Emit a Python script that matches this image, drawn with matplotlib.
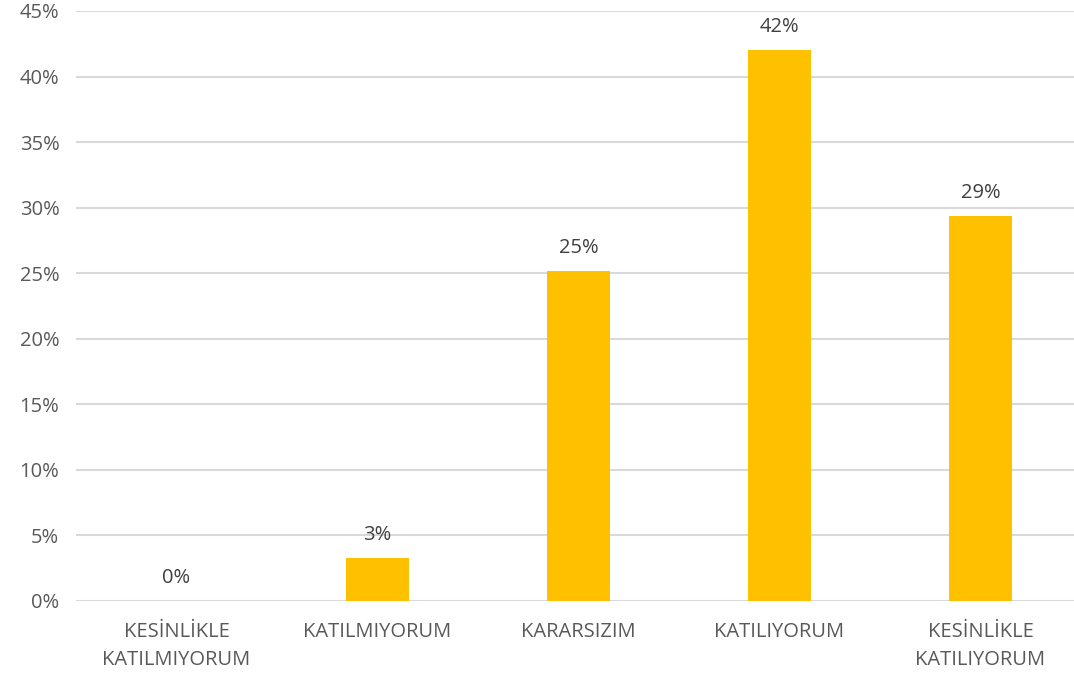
import matplotlib
matplotlib.use('Agg')
import matplotlib.pyplot as plt

categories = ['KESİNLİKLE\nKATILMIYORUM', 'KATILMIYORUM', 'KARARSIZIM',
              'KATILIYORUM', 'KESİNLİKLE\nKATILIYORUM']
values = [0.0, 3.3, 25.2, 42.0, 29.4]
labels = ['0%', '3%', '25%', '42%', '29%']
yticks = [0, 5, 10, 15, 20, 25, 30, 35, 40, 45]

W, H = 1074, 677
plt.rcParams['font.family'] = ['Open Sans', 'DejaVu Sans']
grey = '#595959'
fs = 14.5

fig = plt.figure(figsize=(W / 100, H / 100), dpi=100)
ax = fig.add_axes([76 / W, 1 - 601 / H, (1074 - 76) / W, 590 / H])

x = list(range(len(categories)))
ax.bar(x, values, width=0.315, color='#FFC000', zorder=3)

for xi, v, lab in zip(x, values, labels):
    ax.annotate(lab, (xi, v), xytext=(0, 13), textcoords='offset pixels',
                ha='center', va='bottom', fontsize=fs, color='#404040')

ax.set_xlim(-0.5, 4.5 - 7 / 201)
ax.set_ylim(0, 45)
ax.set_yticks(yticks)
ax.set_yticklabels([f'{t}%' for t in yticks], fontsize=fs, color=grey)
ax.set_xticks(x)
ax.set_xticklabels(categories, fontsize=fs, color=grey, linespacing=1.55)
ax.tick_params(length=0)
ax.tick_params(axis='y', pad=12)
ax.tick_params(axis='x', pad=15)
ax.grid(axis='y', color='#d9d9d9', linewidth=1.5, zorder=0)
for s in ax.spines.values():
    s.set_visible(False)

fig.savefig('out.png', dpi=100)
